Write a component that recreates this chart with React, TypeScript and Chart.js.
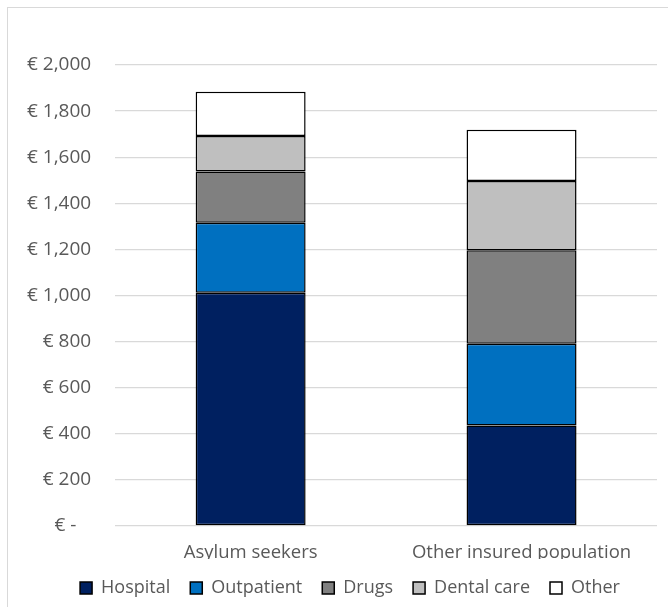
import React, { useEffect, useRef } from "react";
import { Chart, registerables } from "chart.js";

Chart.register(...registerables);

const categories = ["Asylum seekers", "Other insured population"];
const seriesNames = ["Hospital", "Outpatient", "Drugs", "Dental care", "Other"];
const hospital = [1012, 436];
const outpatient = [304, 355];
const drugs = [222, 405];
const dentalCare = [154, 301];
const other = [192, 222];
const seriesColors = ["#002060", "#0070C0", "#808080", "#BFBFBF", "#FFFFFF"];
const yTicks = [0, 200, 400, 600, 800, 1000, 1200, 1400, 1600, 1800, 2000];

const FONT = "'Open Sans', 'DejaVu Sans', sans-serif";
const TEXT = "#595959";

const legendShift = {
  id: "legendShift",
  afterLayout(chart: any) {
    if (chart.legend) {
      chart.legend.left += 20;
      chart.legend.right += 20;
    }
  },
};

export default function App() {
  const ref = useRef<HTMLCanvasElement | null>(null);
  useEffect(() => {
    if (!ref.current) return;
    const values = [hospital, outpatient, drugs, dentalCare, other];
    const chart = new Chart(ref.current, {
      type: "bar",
      data: {
        labels: categories,
        datasets: seriesNames.map((name, i) => ({
          label: name,
          data: values[i],
          backgroundColor: seriesColors[i],
          borderColor: "#000000",
          borderWidth: 1.5,
          borderSkipped: false,
          barPercentage: 0.406,
          categoryPercentage: 1,
        })),
      },
      plugins: [legendShift],
      options: {
        responsive: false,
        animation: false,
        layout: { padding: { top: 57, right: 11, left: 0, bottom: 0 } },
        plugins: {
          tooltip: { enabled: false },
          legend: {
            position: "bottom",
            maxHeight: 55,
            labels: {
              font: { family: FONT, size: 18, lineHeight: 1.2 },
              color: TEXT,
              boxWidth: 12,
              boxHeight: 12,
              padding: 20,
              generateLabels: (c: any) =>
                c.data.datasets.map((d: any, i: number) => ({
                  text: d.label,
                  fillStyle: d.backgroundColor,
                  strokeStyle: "#000000",
                  lineWidth: 1.5,
                  hidden: false,
                  datasetIndex: i,
                  fontColor: TEXT,
                })),
            },
          },
        },
        scales: {
          x: {
            stacked: true,
            grid: { display: false, drawTicks: false },
            border: { display: false },
            afterFit: (axis: any) => {
              axis.height = 33;
            },
            ticks: { font: { family: FONT, size: 18.5, lineHeight: 1.2 }, color: TEXT, padding: 16 },
          },
          y: {
            stacked: true,
            min: 0,
            max: 2000,
            afterBuildTicks: (axis: any) => {
              axis.ticks = yTicks.map((v) => ({ value: v }));
            },
            grid: { color: "#d9d9d9", lineWidth: 1.3, drawTicks: false },
            border: { display: false },
            ticks: {
              font: { family: FONT, size: 19 },
              color: TEXT,
              padding: 24,
              callback: (v: any) =>
                Number(v) === 0 ? "€ -   " : "€ " + Number(v).toLocaleString("en-US"),
            },
          },
        },
      },
    });
    return () => chart.destroy();
  }, []);
  return (
    <div
      style={{
        position: "absolute",
        left: 7,
        top: 7,
        width: 680,
        height: 620,
        borderLeft: "1px solid #d9d9d9",
        borderTop: "1px solid #d9d9d9",
        boxSizing: "border-box",
      }}
    >
      <canvas ref={ref} width={665} height={599} style={{ display: "block", marginLeft: -5 }} />
    </div>
  );
}
